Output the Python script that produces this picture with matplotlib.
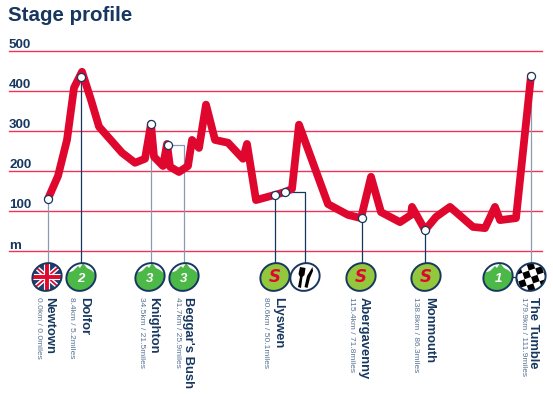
import numpy as np
import matplotlib
matplotlib.use('Agg')
import matplotlib.pyplot as plt
from matplotlib.patches import Ellipse, Polygon

NAVY = '#17375e'
RED = '#e0072f'
GRID = '#f0335a'
STEM = '#8a9ab0'
plt.rcParams['font.family'] = ['Liberation Sans', 'DejaVu Sans']

# profile: x is the position along the drawn profile, y is metres
prof_x = [48, 58, 67, 74, 82, 91, 99, 122, 135, 145, 151, 154, 163, 167, 170, 179, 188, 192, 199, 206,
          215, 228, 243, 247, 256, 275, 285, 292, 299, 328, 348, 361, 371, 381, 400, 411, 412, 425,
          436, 450, 473, 485, 495, 500, 516, 531]
prof_m = [130, 187, 277, 407, 447, 377, 310, 245, 220, 230, 317, 235, 212, 267, 210, 197, 212, 277, 257, 365,
          277, 270, 230, 267, 127, 140, 147, 155, 315, 117, 90, 82, 185, 97, 72, 90, 110, 52,
          85, 110, 60, 57, 110, 77, 82, 437]

grid_m = [100, 200, 300, 400, 500]
grid_labels = ['100', '200', '300', '400', '500']

point_x = [48, 81, 151, 168, 275, 285, 362, 425, 531]
point_m = [130, 435, 317, 265, 140, 147, 82, 52, 437]
stem_x = [48, 81, 151, 184, 275, 305, 362, 425, 531]
stem_col = [STEM, NAVY, STEM, STEM, NAVY, NAVY, NAVY, NAVY, STEM]

badge_x = [47, 81, 150, 184, 275, 305, 361, 426, 498, 531]
badge_kind = ['flag', '2', '3', '3', 'S', 'food', 'S', 'S', '1', 'finish']

places = ['Newtown', 'Dolfor', 'Knighton', "Beggar's Bush", 'Llyswen', 'Abergavenny', 'Monmouth', 'The Tumble']
dists = ['0.0km / 0.0miles', '8.4km / 5.2miles', '34.5km / 21.5miles', '41.7km / 25.9miles', '80.6km / 50.1miles',
         '115.4km / 71.8miles', '138.8km / 86.3miles', '179.9km / 111.9miles']
name_x = [49, 84, 153, 188, 278, 364, 429, 533]
dist_x = [38, 72, 142, 177, 266, 352, 416, 523]

fig = plt.figure(figsize=(5.53, 3.94), dpi=100)
bg = fig.add_axes([0, 0, 1, 1])
bg.set_xlim(0, 553)
bg.set_ylim(394, 0)
bg.axis('off')
ax = fig.add_axes([0, 1 - 251 / 394, 1, (251 - 50.5) / 394], zorder=2)
ax.set_xlim(0, 553)
ax.set_ylim(0, 500)
ax.axis('off')
over = fig.add_axes([0, 0, 1, 1], zorder=3)
over.set_xlim(0, 553)
over.set_ylim(394, 0)
over.axis('off')

bg.text(8, 21, 'Stage profile', fontsize=14.8, fontweight='bold', color=NAVY)

for m, lab in zip(grid_m, grid_labels):
    ax.plot([9, 542], [m, m], color=GRID, lw=1.0, clip_on=False, zorder=1)
    ax.text(9, m + 6, lab, fontsize=9.6, fontweight='bold', color=NAVY, va='baseline', clip_on=False)
ax.plot([9, 542], [0, 0], color=GRID, lw=1.0, clip_on=False, zorder=1)
ax.text(9, 6, 'm', fontsize=9.6, fontweight='bold', color=NAVY, va='baseline', clip_on=False)

# stems from profile point to badge
for i in range(len(point_x)):
    ax.plot([point_x[i], stem_x[i], stem_x[i]], [point_m[i], point_m[i], -30], color=stem_col[i], lw=0.9,
            clip_on=False, zorder=2)

ax.plot(prof_x, prof_m, color=RED, lw=5.6, solid_joinstyle='round', solid_capstyle='round', clip_on=False, zorder=3)
ax.scatter(point_x, point_m, s=34, facecolor='white', edgecolor=NAVY, linewidth=0.9, clip_on=False, zorder=4)


def make_disc(a, cx, cy, face):
    clip = Ellipse((cx, cy), 30, 27, angle=-30, transform=a.transData)
    a.add_patch(Ellipse((cx, cy), 30, 27, angle=-30, facecolor=face, edgecolor='none', zorder=5))
    return clip


def outline(a, cx, cy):
    a.add_patch(Ellipse((cx, cy), 30, 27, angle=-30, facecolor='none', edgecolor=NAVY, lw=1.4, zorder=8))


def draw_flag(a, cx, cy):
    clip = make_disc(a, cx, cy, '#1d3f72')
    for (x0, y0, x1, y1) in [(-16, -14, 16, 14), (-16, 14, 16, -14)]:
        for w, c in [(3.4, 'white'), (1.3, RED)]:
            l, = a.plot([cx + x0, cx + x1], [cy + y0, cy + y1], color=c, lw=w, zorder=6)
            l.set_clip_path(clip)
    for w, c in [(4.4, 'white'), (2.8, RED)]:
        l, = a.plot([cx - 16, cx + 16], [cy, cy], color=c, lw=w, zorder=6)
        l.set_clip_path(clip)
        l, = a.plot([cx, cx], [cy - 16, cy + 16], color=c, lw=w, zorder=6)
        l.set_clip_path(clip)


def draw_climb(a, cx, cy, txt):
    clip = make_disc(a, cx, cy, '#4cb848')
    p = Polygon([[cx - 17, cy - 3], [cx - 8, cy - 6], [cx - 3, cy - 11], [cx - 1, cy - 9], [cx + 2, cy - 14],
                 [cx + 6, cy - 9], [cx + 10, cy - 7], [cx + 17, cy - 1], [cx + 17, cy - 18], [cx - 17, cy - 18]],
                facecolor='white', edgecolor='none', zorder=6)
    a.add_patch(p)
    p.set_clip_path(clip)
    a.text(cx, cy + 2, txt, fontsize=9.5, fontweight='bold', style='italic', color='white', ha='center', va='center', zorder=7)


def draw_sprint(a, cx, cy):
    make_disc(a, cx, cy, '#93c83e')
    a.text(cx, cy, 'S', fontsize=12, family='DejaVu Sans', fontweight='bold', style='italic', color=RED,
           ha='center', va='center', zorder=7)


def draw_food(a, cx, cy):
    make_disc(a, cx, cy, 'white')
    # fork
    a.add_patch(Polygon([[cx - 5, cy - 10], [cx + 0.5, cy - 9], [cx - 0.5, cy - 2], [cx - 2.5, cy], [cx - 4, cy + 11],
                         [cx - 7, cy + 10], [cx - 5, cy], [cx - 6.5, cy - 3]],
                        facecolor='black', edgecolor='none', zorder=6))
    # knife
    a.add_patch(Polygon([[cx + 7.5, cy - 10], [cx + 8, cy - 6], [cx + 5, cy + 1], [cx + 2.5, cy + 11], [cx - 0.5, cy + 10],
                         [cx + 2, cy - 1]],
                        facecolor='black', edgecolor='none', zorder=6))


def draw_finish(a, cx, cy):
    clip = make_disc(a, cx, cy, 'white')
    u = np.array([6.4, -2.2])
    v = np.array([2.2, 6.4])
    c = np.array([cx, cy])
    for i in range(-3, 3):
        for j in range(-3, 3):
            if (i + j) % 2 == 0:
                o = c + i * u + j * v
                r = Polygon([o, o + u, o + u + v, o + v], facecolor='black', edgecolor='none', zorder=6)
                a.add_patch(r)
                r.set_clip_path(clip)


badge_y = 277
over.plot([badge_x[8], badge_x[9]], [badge_y, badge_y], color=NAVY, lw=0.9, zorder=4)
for bx, kind in zip(badge_x, badge_kind):
    if kind == 'flag':
        draw_flag(over, bx, badge_y)
    elif kind == 'S':
        draw_sprint(over, bx, badge_y)
    elif kind == 'food':
        draw_food(over, bx, badge_y)
    elif kind == 'finish':
        draw_finish(over, bx, badge_y)
    else:
        draw_climb(over, bx, badge_y, kind)
    outline(over, bx, badge_y)

for nx, dx, name, d in zip(name_x, dist_x, places, dists):
    over.text(nx, 297, name, rotation=-90, fontsize=9.4, fontweight='bold', color=NAVY, ha='center', va='top')
    over.text(dx, 297, d, rotation=-90, fontsize=6, color='#5a7394', ha='center', va='top')

fig.savefig('out.png', dpi=100)
